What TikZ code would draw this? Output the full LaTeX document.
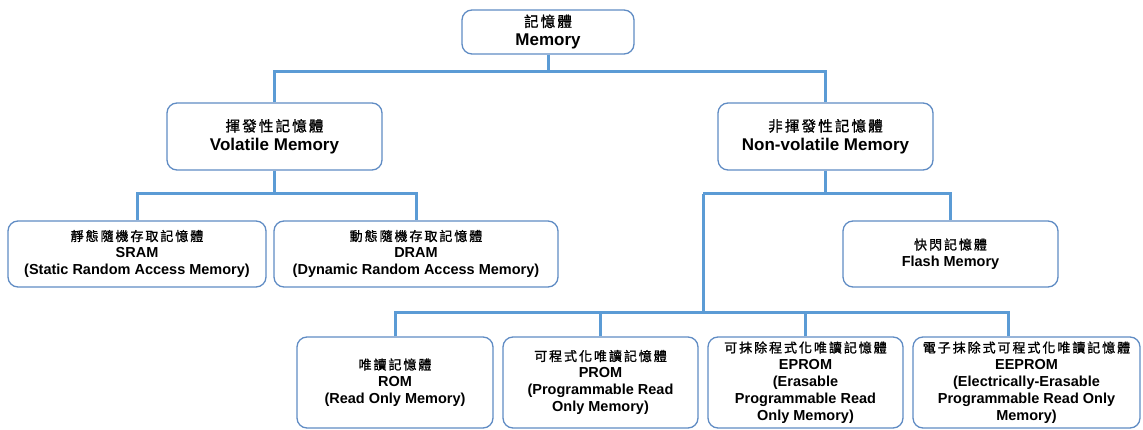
\documentclass[tikz,border=0pt]{standalone}
\usepackage{fontspec}
\setmainfont{Liberation Sans}
\newfontfamily\cjkfont{Noto Sans CJK TC}[LetterSpace=15, FakeBold=1.2]
\definecolor{boxc}{RGB}{96,140,196}
\definecolor{linec}{RGB}{91,155,213}
\newcommand\zhbig[1]{{\cjkfont\mdseries\fontsize{14.5}{19}\selectfont #1}}
\newcommand\zhsml[1]{{\cjkfont\mdseries\fontsize{13}{17}\selectfont #1}}
\begin{document}
\begin{tikzpicture}[x=1pt,y=-1pt,
  box/.style={draw=boxc, line width=1.3pt, rounded corners=10pt, fill=white,
    align=center, inner sep=0pt},
  bigbox/.style={box, font=\fontsize{17}{19}\selectfont\bfseries},
  smlbox/.style={box, font=\fontsize{14.5}{17}\selectfont\bfseries},
  conn/.style={draw=linec, line width=3pt}]
\useasboundingbox (0,0) rectangle (1143,430);

% nodes
\node[bigbox, minimum width=172pt, minimum height=44pt] (mem) at (548,32) {\zhbig{記憶體}\\Memory};
\node[bigbox, minimum width=215pt, minimum height=67pt] (vol) at (274.5,136.5) {\zhbig{揮發性記憶體}\\Volatile Memory};
\node[bigbox, minimum width=215pt, minimum height=67pt] (nv) at (825.5,136.5) {\zhbig{非揮發性記憶體}\\Non-volatile Memory};

\node[smlbox, minimum width=258pt, minimum height=66pt] (sram) at (137,254) {\zhsml{靜態隨機存取記憶體}\\SRAM\\(Static Random Access Memory)};
\node[smlbox, minimum width=284pt, minimum height=66pt] (dram) at (416,254) {\zhsml{動態隨機存取記憶體}\\DRAM\\(Dynamic Random Access Memory)};
\node[smlbox, minimum width=215pt, minimum height=66pt] (flash) at (950.5,254) {\zhsml{快閃記憶體}\\Flash Memory};

\node[smlbox, minimum width=196pt, minimum height=91pt] (rom) at (395,382.5) {\zhsml{唯讀記憶體}\\ROM\\(Read Only Memory)};
\node[smlbox, minimum width=195pt, minimum height=91pt] (prom) at (600.5,382.5) {\zhsml{可程式化唯讀記憶體}\\PROM\\(Programmable Read\\Only Memory)};
\node[smlbox, minimum width=195pt, minimum height=91pt] (eprom) at (805.5,382.5) {\zhsml{可抹除程式化唯讀記憶體}\\EPROM\\(Erasable\\Programmable Read\\Only Memory)};
\node[smlbox, minimum width=227pt, minimum height=91pt] (eeprom) at (1026.5,382.5) {\zhsml{電子抹除式可程式化唯讀記憶體}\\EEPROM\\(Electrically-Erasable\\Programmable Read Only\\Memory)};

% junctions
\coordinate (j1) at (548,72);
\coordinate (j2) at (274.5,194);
\coordinate (j3) at (825.5,194);
\coordinate (t1) at (703,194);
\coordinate (t2) at (703,313);
\coordinate (ee) at ([xshift=-18.5pt]eeprom.north);

% connectors
\draw[conn] (mem.south) -- (j1);
\draw[conn] (vol.north) |- (j1) -| (nv.north);
\draw[conn] (vol.south) -- (j2);
\draw[conn] (sram.north) |- (j2) -| (dram.north);
\draw[conn] (nv.south) -- (j3);
\draw[conn] (t1) -- (j3) -| (flash.north);
\draw[conn] (t1) -- (t2);
\draw[conn] (rom.north) |- (t2) -| (ee);
\draw[conn] (prom.north) -- (prom.north |- t2);
\draw[conn] (eprom.north) -- (eprom.north |- t2);
\end{tikzpicture}
\end{document}
